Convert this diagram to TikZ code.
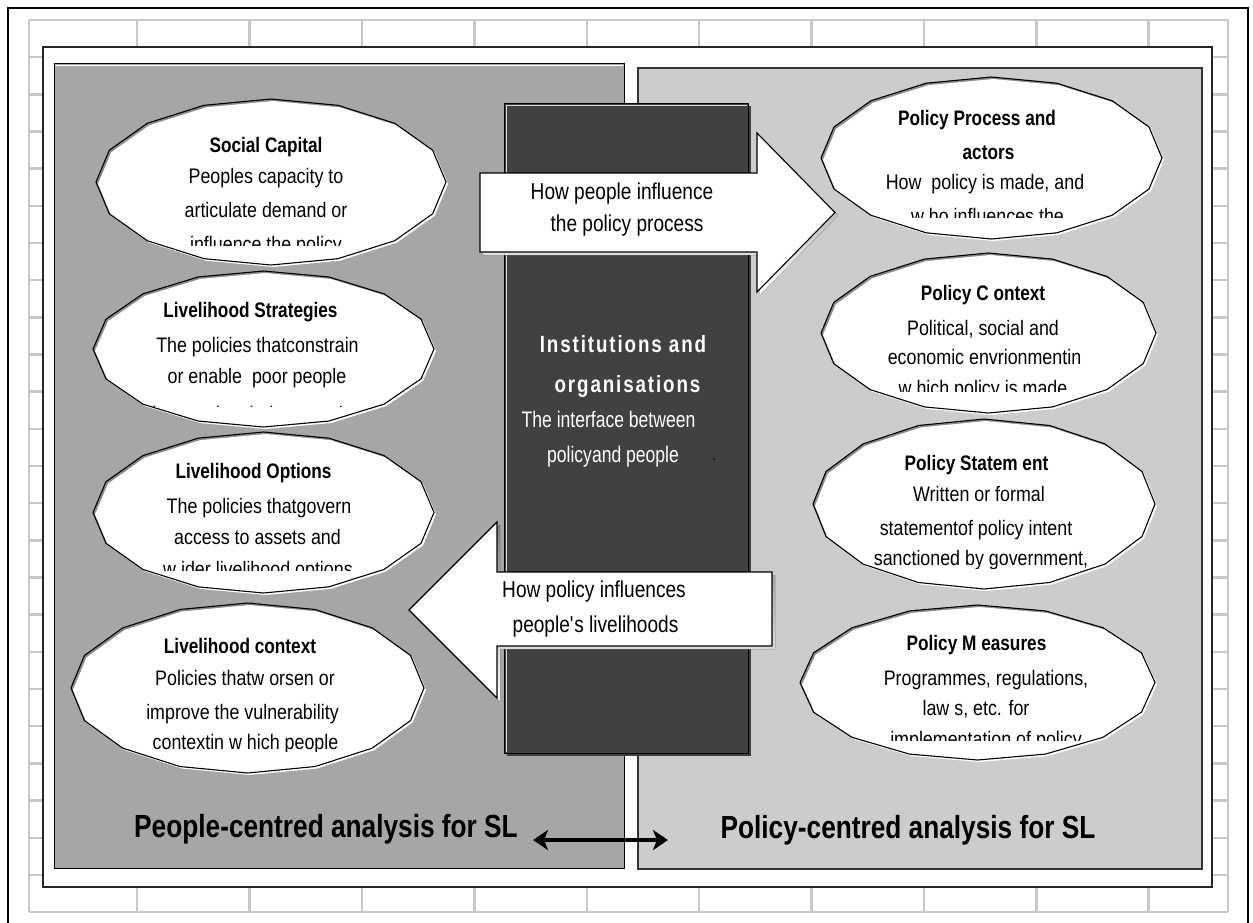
\documentclass[tikz,border=0pt]{standalone}
\usepackage{fontspec}
\setmainfont{Liberation Sans}
\newfontfamily\cnBody[FakeStretch=0.85]{Liberation Sans}
\newfontfamily\cnTitle[FakeStretch=0.82]{Liberation Sans}
\newfontfamily\cnArrow[FakeStretch=0.83]{Liberation Sans}
\newfontfamily\cnPanel[FakeStretch=0.82]{Liberation Sans}
\newfontfamily\cnInst[FakeStretch=0.8,LetterSpace=8]{Liberation Sans}
\newfontfamily\cnInstB[FakeStretch=0.78]{Liberation Sans}
\usetikzlibrary{shapes.geometric,arrows.meta}
\definecolor{gridc}{RGB}{200,200,200}
\definecolor{panelL}{RGB}{166,166,166}
\definecolor{panelR}{RGB}{204,204,204}
\definecolor{darkbox}{RGB}{65,65,65}
\definecolor{shade}{RGB}{128,128,128}
\definecolor{blobshade}{RGB}{140,140,140}
\tikzset{
  gridline/.style={draw=gridc, line width=2.5},
  bodytxt/.style={font=\cnBody\fontsize{21}{24}\selectfont, inner sep=0pt, anchor=base},
  titletxt/.style={font=\cnTitle\bfseries\fontsize{21}{24}\selectfont, inner sep=0pt, anchor=base},
  arrowtxt/.style={font=\cnArrow\fontsize{23}{30}\selectfont, inner sep=0pt, anchor=base},
  paneltxt/.style={font=\cnPanel\bfseries\fontsize{32}{36}\selectfont, inner sep=0pt, anchor=base},
  insttitle/.style={font=\cnInst\bfseries\fontsize{23.5}{30}\selectfont, text=white, inner sep=0pt, anchor=base},
  instbody/.style={font=\cnInstB\fontsize{22.5}{30}\selectfont, text=white, inner sep=0pt, anchor=base},
  blobnode/.style={ellipse, inner sep=0pt, draw=none},
  blockarrow/.style={fill=white, draw=black, line width=1.1},
}
\newcommand\blobshape[4]{%
  \fill[blobshade] plot[samples=17,domain=0:360,variable=\ang] ({#1+#3*cos(\ang)},{#2+#4*sin(\ang)}) -- cycle;
  \fill[white] plot[samples=17,domain=0:360,variable=\ang] ({#1+2+#3*cos(\ang)},{#2+2+#4*sin(\ang)}) -- cycle;
  \draw[black,line width=1.1,line join=round] plot[samples=17,domain=0:360,variable=\ang] ({#1+#3*cos(\ang)},{#2+#4*sin(\ang)}) -- cycle;}
\begin{document}
\begin{tikzpicture}[x=1pt,y=-1pt]
\useasboundingbox (0,0) rectangle (1253,922);
\fill[white] (0,0) rectangle (1253,922);
% grid
\foreach \k in {0,...,24} \draw[gridline] (29,{20+37.17*\k}) -- (1228,{20+37.17*\k});
\foreach \xx in {29,137,249.5,362,474.5,587,699,811.5,924,1036.5,1148.5,1228} \draw[gridline] (\xx,20) -- (\xx,912);
% outer border
\draw[line width=2] (8,930) -- (8,8) -- (1248,8) -- (1248,930);
% inner frame
\filldraw[fill=white, draw=black!85, line width=1.6] (43,47) rectangle (1212,887);
% left panel
\fill[shade] (58,68) rectangle (624,873);
\filldraw[fill=panelL, draw=black, line width=1] (54,63) rectangle (624,868);
\draw[white, line width=1.3] (55,65.5) -- (623,65.5);
% right panel
\filldraw[fill=panelR, draw=black!80, line width=1.2] (638,68) rectangle (1202,869);
% centre box
\fill[black!75] (507,106) rectangle (751,756);
\filldraw[fill=darkbox, draw=black, line width=1] (504,103) rectangle (748,753);
\draw[white!80!darkbox, line width=1] (506.5,752) -- (506.5,105.5) -- (747,105.5);
\node[inner sep=0, minimum width=244pt, minimum height=650pt] (inst) at (626,428) {};

% ---------- left ellipses ----------
\node[blobnode, minimum width=350pt, minimum height=166pt] (sc) at (271,182) {};
\blobshape{271}{182}{175}{83}
\begin{scope}
\clip (96,99) rectangle (446,245);
\node[titletxt] (sc-t) at (266,152) {Social Capital};
\node[bodytxt] (sc-1) at (266,183) {Peoples capacity to};
\node[bodytxt] (sc-2) at (266,217) {articulate demand or};
\node[bodytxt] (sc-3) at (266,251) {influence the policy};
\end{scope}

\node[blobnode, minimum width=341pt, minimum height=156pt] (ls) at (263.5,349) {};
\blobshape{263.5}{349}{170.5}{78}
\begin{scope}
\clip (93,271) rectangle (434,406);
\node[titletxt] (ls-t) at (250.5,317) {Livelihood Strategies};
\node[bodytxt] (ls-1) at (257.5,352) {The policies thatconstrain};
\node[bodytxt] (ls-2) at (257,383) {or enable~ poor people};
\node[bodytxt] (ls-3) at (257,421) {in pursuing their strategies};
\end{scope}

\node[blobnode, minimum width=341pt, minimum height=161pt] (lo) at (263.5,512.5) {};
\blobshape{263.5}{512.5}{170.5}{80.5}
\begin{scope}
\clip (93,432) rectangle (434,570);
\node[titletxt] (lo-t) at (253.5,478) {Livelihood Options};
\node[bodytxt] (lo-1) at (259,513) {The policies thatgovern};
\node[bodytxt] (lo-2) at (257.5,544) {access to assets and};
\node[bodytxt] (lo-3) at (258,576) {w ider livelihood options};
\end{scope}

\node[blobnode, minimum width=353pt, minimum height=170pt] (lc) at (247.5,688) {};
\blobshape{247.5}{688}{176.5}{85}
\begin{scope}
\clip (71,603) rectangle (424,751);
\node[titletxt] (lc-t) at (240,653) {Livelihood context};
\node[bodytxt] (lc-1) at (245,685) {Policies thatw orsen or};
\node[bodytxt] (lc-2) at (242.5,719) {improve the vulnerability};
\node[bodytxt] (lc-3) at (245.5,749) {contextin w hich people};
\end{scope}

% ---------- right ellipses ----------
\node[blobnode, minimum width=341pt, minimum height=162pt] (pp) at (991.5,158) {};
\blobshape{991.5}{158}{170.5}{81}
\begin{scope}
\clip (821,77) rectangle (1162,217);
\node[titletxt] (pp-t1) at (977,125) {Policy Process and};
\node[titletxt] (pp-t2) at (988.5,159) {actors};
\node[bodytxt] (pp-1) at (985,189) {How~ policy is made, and};
\node[bodytxt] (pp-2) at (987.5,223) {w ho influences the};
\end{scope}

\node[blobnode, minimum width=335pt, minimum height=160pt] (pc) at (988.5,333) {};
\blobshape{988.5}{333}{167.5}{80}
\begin{scope}
\clip (821,253) rectangle (1156,391);
\node[titletxt] (pc-t) at (983,300) {Policy C ontext};
\node[bodytxt] (pc-1) at (983,335) {Political, social and};
\node[bodytxt] (pc-2) at (984.5,364) {economic envrionmentin};
\node[bodytxt] (pc-3) at (983,395) {w hich policy is made};
\end{scope}

\node[blobnode, minimum width=342pt, minimum height=170pt] (ps) at (984,504) {};
\blobshape{984}{504}{171}{85}
\begin{scope}
\clip (813,419) rectangle (1155,568);
\node[titletxt] (ps-t) at (976.5,470) {Policy Statem ent};
\node[bodytxt] (ps-1) at (979,501) {Written or formal};
\node[bodytxt] (ps-2) at (976,535) {statementof policy intent};
\node[bodytxt] (ps-3) at (981,565) {sanctioned by government,};
\end{scope}

\node[blobnode, minimum width=355pt, minimum height=155pt] (pm) at (977.5,682.5) {};
\blobshape{977.5}{682.5}{177.5}{77.5}
\begin{scope}
\clip (800,605) rectangle (1155,740);
\node[titletxt] (pm-t) at (976.5,650) {Policy M easures};
\node[bodytxt] (pm-1) at (986,685) {Programmes, regulations,};
\node[bodytxt] (pm-2) at (976,715) {law s, etc. for};
\node[bodytxt] (pm-3) at (986,746) {implementation of policy};
\end{scope}

% ---------- institutions text ----------
\node[insttitle] (it1) at (623,352) {Institutions and};
\node[insttitle] (it2) at (627.5,392) {organisations};
\node[instbody] (ib1) at (608.5,427) {The interface between};
\node[instbody] (ib2) at (613,462) {policyand people};
\node[inner sep=0, anchor=base, font=\cnBody\fontsize{16}{20}\selectfont] (idot) at (714,460) {.};

% ---------- block arrows ----------
\fill[shade] (483,176) -- (760,176) -- (760,136) -- (838,215.5) -- (760,295) -- (760,255) -- (483,255) -- cycle;
\draw[blockarrow] (480,173) -- (757,173) -- (757,133) -- (835,212.5) -- (757,292) -- (757,252) -- (480,252) -- cycle;
\node[arrowtxt] (ta1) at (622,199) {How people influence};
\node[arrowtxt] (ta2) at (627,231) {the policy process};

\fill[shade] (775,575) -- (500,575) -- (500,525) -- (412,613) -- (500,701) -- (500,649) -- (775,649) -- cycle;
\draw[blockarrow] (772,572) -- (497,572) -- (497,522) -- (409,610) -- (497,698) -- (497,646) -- (772,646) -- cycle;
\node[arrowtxt] (ba1) at (594,597) {How policy influences};
\node[arrowtxt] (ba2) at (595.5,632) {people\textquotesingle s livelihoods};

% ---------- panel titles ----------
\node[paneltxt] (tl) at (326,837) {People-centred analysis for SL};
\node[paneltxt] (tr) at (908,838) {Policy-centred analysis for SL};
\coordinate (dl) at (533,840);
\coordinate (dr) at (668,840);
\draw[line width=3.5, {Stealth[length=15pt,width=20pt,inset=4pt]}-{Stealth[length=15pt,width=20pt,inset=4pt]}] (dl) -- (dr);
\end{tikzpicture}
\end{document}
